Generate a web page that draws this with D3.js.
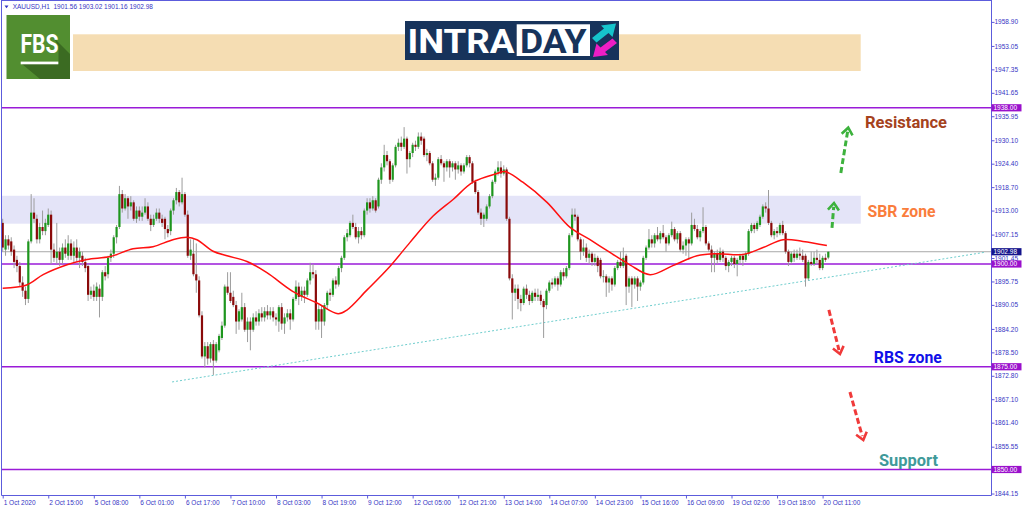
<!DOCTYPE html>
<html><head><meta charset="utf-8">
<script src="https://cdn.jsdelivr.net/npm/d3@7"></script>
<style>body{margin:0;background:#fff;overflow:hidden;} svg{display:block;} text{font-family:"Liberation Sans",Arial,sans-serif;}</style>
</head><body><svg id="c" width="1024" height="511"></svg>
<script>
// ---------------- DATA ----------------
const symbolInfo = "XAUUSD,H1  1901.56 1903.02 1901.16 1902.98";
const barOpen = [
1910,1903.5,1906,1905.5,1903.5,1901,1899.5,1895.5,1893.5,1891.5,
1905.5,1912.5,1911,1906,1909,1908,1909.5,1912,1903.5,1901.5,
1903,1901,1904,1902,1905,1902,1904,1901.5,1902,1900.5,
1899.5,1892.5,1893.5,1892,1894,1892,1898,1897.5,1901.5,1902.5,
1906.5,1909,1917,1913.5,1916,1914,1915,1911,1913,1911.5,
1912.5,1914,1911,1909.5,1911,1912.5,1911,1911,1908.5,1908,
1913,1915.5,1917.5,1915,1917,1912,1902,1902.5,1897.5,1896,
1887.5,1877.5,1880,1877,1880.5,1876.5,1879,1882,1885,1894.5,
1893,1892,1890,1886,1886.5,1889.5,1884,1886,1884,1887,
1886,1888,1887,1888.5,1887.5,1888.5,1887,1886,1889.5,1885.5,
1887,1888,1886.5,1891.5,1894.5,1892,1893.5,1892.5,1896,1898,
1897.5,1886,1889,1886,1890,1893,1892.5,1896,1895,1899,
1901.5,1906.5,1907,1910,1909,1906.5,1908,1907,1913,1915,
1913.5,1915.5,1914,1920.5,1923.5,1926.5,1925,1920.5,1924,1928.5,
1929.5,1928.5,1930.5,1925.5,1927,1929,1928.5,1931,1930.5,1926.5,
1927,1924.5,1920.5,1921,1925.5,1924.5,1923.5,1925,1923.5,1924.5,
1923,1924,1922.5,1924,1926,1924.5,1920,1917.5,1912.5,1911,
1911,1914,1916.5,1920,1922.5,1923.5,1922,1923,1911,1896.5,
1893,1894,1891.5,1890.5,1894,1892.5,1891,1893,1892,1892.5,
1891,1890,1893.5,1895.5,1895,1896.5,1895,1898,1897,1899,
1907,1912,1911.5,1906,1903,1904,1901.5,1902.5,1900.5,1901.5,
1901,1897,1897,1895.5,1896.5,1895,1899,1900.5,1899.5,1902,
1894.5,1896.5,1895,1896.5,1894.5,1895.5,1901.5,1904,1906,1905,
1907,1906,1907.5,1906.5,1905,1907,1908.5,1906,1907.5,1903.5,
1904.5,1906,1905,1909.5,1908.5,1906.5,1908,1909,1905,1903.5,
1901.5,1902.5,1901,1903,1901.5,1899.5,1900.5,1901.5,1900,1901,
1902,1901,1902.5,1908,1909.5,1908.5,1909.5,1911.5,1914,1913.5,
1910,1907,1908,1907.5,1909.5,1907.5,1903,1900.5,1902.5,1901.5,
1902.5,1902,1902,1896.5,1900.5,1900,1901.5,1901,1899,1901.5,1901.56];
const barHigh = [
1911,1907,1907,1906.5,1904.5,1902,1900.5,1897,1894.5,1906,
1917,1916,1912,1910,1913,1911,1913.5,1913,1905,1910,
1904,1905,1906,1907,1906,1905.5,1906,1904,1903,1901.5,
1900,1894.5,1895,1895.5,1895,1898.5,1899.5,1902,1903.5,1907,
1909.5,1919,1918,1917,1916.5,1916.5,1915.5,1914,1914,1914,
1916,1915,1912,1912,1913.5,1913.5,1912,1911.5,1909.5,1913.5,
1916,1918.5,1918,1921,1917.5,1913,1906,1906,1905,1897,
1888.5,1881,1881,1881,1881.5,1881,1883,1886,1895,1898,
1898,1893.5,1891,1889,1893,1890.5,1887,1887,1888,1888.5,
1889,1889.5,1889.5,1890,1889.5,1889.5,1888,1890,1890.5,1888,
1889,1889,1892,1896,1895.5,1894.5,1894.5,1896.5,1900.3,1900,
1898.5,1890,1890,1890.5,1893.5,1894,1896.5,1897,1899.5,1902,
1907,1908.5,1910.5,1912,1910,1909,1909,1913.5,1916,1916,
1916.5,1916,1921,1924.5,1929,1927.5,1925.5,1924.5,1929,1930.5,
1931,1933.3,1931,1927.5,1929.5,1930,1932,1932,1931,1928,
1927.5,1925,1922,1926,1926.5,1925,1925.5,1925.5,1925,1925,
1925,1924.5,1924.5,1926.5,1926.5,1925,1920.5,1918,1913.5,1912.5,
1914.5,1917,1920.5,1923,1925,1925,1924,1923.5,1911.5,1897.5,
1895,1895,1892.5,1894.5,1895,1893.5,1893.5,1894,1894,1893.5,
1891.5,1894,1896,1896.5,1897,1897,1898.5,1899,1899.5,1907.5,
1913.5,1913.5,1912,1906.5,1906,1905,1903.5,1903,1902.5,1902,
1901.5,1898.5,1897.5,1897,1897,1899.5,1901,1903,1904,1902.5,
1897,1897,1897,1897,1896,1902,1904.5,1908.5,1907,1907.5,
1909,1908,1909.5,1907,1907.5,1910.3,1909,1908,1908,1905.5,
1906.5,1906.5,1912.5,1911,1909.5,1908.5,1913.8,1909.5,1905.5,1904.5,
1903,1903.5,1904,1903.5,1902,1901,1902,1902,1901.5,1902.5,
1902.5,1903,1908.5,1910,1910,1910.5,1912,1914.5,1915,1918,
1910.5,1908.5,1909,1910,1910.5,1908,1903.5,1903,1903.5,1903.5,
1904,1903.5,1902.5,1901,1903,1903,1903.5,1902.5,1902,1902.5,1903.02];
const barLow = [
1903,1902,1903.5,1902,1899,1898,1894.5,1892,1890,1890.5,
1905,1910,1905,1905,1907,1907,1909,1900,1900.5,1900,
1899.5,1900,1901.5,1901,1901,1900,1900.5,1899,1899.5,1898,
1891,1891.5,1891,1891,1887,1891,1896,1896.5,1900.5,1901.5,
1905,1908.5,1912.5,1913,1911,1913,1910.5,1910,1910.5,1910.5,
1912,1910.5,1908,1909,1910.5,1910,1909,1906,1906.5,1907,
1912,1914.5,1914,1914.5,1911.5,1901.5,1901,1897,1893,1887,
1877,1874.8,1875.5,1876,1873,1876,1878.5,1881.5,1884.5,1892.5,
1890.5,1889.5,1883,1884,1886,1883.5,1881,1879,1883.5,1885,
1885,1886,1886,1886.5,1886.5,1886,1885,1883.5,1884,1883,
1886,1884,1886,1891,1890,1891,1890.5,1892,1895,1896.5,
1884,1884,1882,1885,1889,1891,1892,1894,1894.5,1898,
1901,1905.5,1906.5,1908.5,1906,1905,1906,1906.5,1912,1912.5,
1913,1912.5,1913.5,1919.5,1922.5,1924,1919.5,1920,1923.5,1927.5,
1927.5,1928,1922,1923.5,1926,1927.5,1928,1929,1926,1925,
1924,1920,1919,1920.5,1924,1920,1922.5,1921,1922.5,1920.5,
1922,1921.5,1922,1923.5,1923.5,1919.5,1917,1912,1909.5,1909,
1910.5,1913.5,1916,1919.5,1921.5,1921,1921.5,1910.5,1896,1886.5,
1891,1889,1888.5,1890,1891.5,1890,1890.5,1891,1891,1890,
1882,1889,1893,1894,1894.5,1893.5,1894.5,1896,1896.5,1898.5,
1906.5,1910.5,1905.5,1901,1902,1900.5,1900,1899.5,1899.5,1898,
1896.5,1895.5,1892,1893,1893.5,1894.5,1898.5,1899,1899,1890,
1893,1889.5,1894,1891,1893.5,1895,1901,1903.5,1904,1904,
1905.5,1905,1906,1903,1904.5,1906.5,1905.5,1905,1903,1902.5,
1902,1901,1904.5,1908,1906,1905.5,1907.5,1904.5,1903,1898,
1898,1900,1900.5,1900.5,1898.5,1898,1899.5,1899,1897,1900,
1899.5,1900.5,1902,1907.5,1907.5,1908,1909,1911,1912.5,1909.5,
1906.5,1906,1906.5,1907,1907,1902.5,1899.5,1900,1900.5,1901,
1901,1900.5,1894.5,1896,1899.5,1899.5,1900,1898.5,1898.5,1900.5,1901.16];
const barClose = [
1904,1906,1904.5,1903,1900.5,1899.5,1895.5,1893.5,1891.5,1905.5,
1912.5,1911,1906,1909,1908,1910,1912,1903.5,1901.5,1903,
1901,1904,1902.5,1905,1902,1904,1901.5,1903,1900.5,1899,
1892.5,1893.5,1892,1894.5,1892,1898,1897,1901.5,1902.5,1906.5,
1909,1917,1913.5,1916,1914,1915,1911,1913,1911.5,1912.5,
1914,1911,1909.5,1911,1912.5,1911,1910,1908.5,1907.5,1913,
1915.5,1917.5,1915,1917,1912,1902,1903.5,1897.5,1896,1887.5,
1877.5,1880,1877,1880.5,1876.5,1880.5,1882.5,1885,1894.5,1893,
1891,1890,1886,1888.5,1889.5,1884,1886,1884,1887,1886,
1888,1887,1888.5,1887.5,1888.5,1887,1886.5,1889.5,1885.5,1887,
1888,1886.5,1891.5,1894.5,1892,1893.5,1892.5,1896,1898,1897.5,
1886,1889,1886,1890,1893,1892.5,1896,1895,1899,1901.5,
1906.5,1907.5,1910,1909,1906.5,1908,1907,1913,1915,1913.5,
1915.5,1913,1920.5,1923.5,1926.5,1925,1920.5,1924,1928.5,1929.5,
1928.5,1930.5,1925.5,1927,1929,1928.5,1931,1930,1926.5,1927,
1924.5,1920.5,1921,1925.5,1924.5,1923.5,1925,1923.5,1924.5,1923,
1924,1922.5,1924,1926,1924.5,1920,1917.5,1912.5,1911,1912,
1914,1916.5,1920,1922.5,1923.5,1922,1923,1911,1896.5,1893,
1894,1891.5,1890.5,1894,1892.5,1891,1893,1892,1892.5,1891,
1889.5,1893.5,1895.5,1895,1896.5,1895,1898,1897,1899,1907,
1912,1911.5,1906,1903,1904,1901.5,1902.5,1900.5,1901.5,1899.5,
1897,1897,1895.5,1896.5,1895,1899,1900.5,1899.5,1901.5,1894.5,
1896.5,1895,1896.5,1894.5,1895.5,1901.5,1904,1906,1905,1907,
1906,1907.5,1906.5,1905,1907,1908.5,1906,1907.5,1903.5,1904.5,
1906,1905,1909.5,1908.5,1906.5,1908,1909,1905,1903.5,1901.5,
1902.5,1901,1903,1901.5,1899.5,1900.5,1901.5,1900,1901,1902,
1901,1902.5,1908,1909.5,1908.5,1910,1911.5,1914,1913.5,1910,
1907,1908,1907.5,1909.5,1907.5,1903,1900.5,1902.5,1901.5,1902.5,
1902,1901,1896.5,1900.5,1900,1901.5,1901,1899,1901.5,1901,1902.98];

// moving average (bar index, price)
const maBars   = [0,8.4,14.2,22.6,29.6,37.7,45.8,52.8,59.8,64.7,68.2,73.9,78.8,85.8,92.8,102,110.4,117.8,120.9,128,136,143,151.1,158.2,165.2,173.6,176.4,182.7,191.2,199.3,206.3,213.3,220.3,227.4,235.4,243.9,250.9,260,267.1,274.1,281.1,289.5];
const maValues = [1894.1,1894.9,1897.4,1899.8,1901.1,1901.8,1903.7,1904.2,1905.9,1906.5,1905.9,1903.1,1902.0,1900.6,1897.9,1893.3,1890.5,1887.9,1888.8,1893.7,1899.4,1905.2,1911.6,1915.7,1919.9,1922.0,1922.5,1919.9,1915.0,1908.9,1905.9,1902.8,1899.8,1897.4,1899.6,1902.0,1902.5,1902.3,1904.0,1905.9,1905.5,1904.5];

const xTickBars = [0,16,32,48,64,80,96,112,128,144,160,176,192,208,224,240,256,272,288];
const xTickLabels = ["1 Oct 2020","2 Oct 15:00","5 Oct 08:00","6 Oct 01:00","6 Oct 17:00","7 Oct 10:00","8 Oct 03:00","8 Oct 19:00","9 Oct 12:00","12 Oct 05:00","12 Oct 21:00","13 Oct 14:00","14 Oct 07:00","14 Oct 23:00","15 Oct 16:00","16 Oct 09:00","19 Oct 02:00","19 Oct 18:00","20 Oct 11:00"];
const yTickValues = [1958.90,1953.05,1947.35,1941.65,1935.95,1930.10,1924.40,1918.70,1913.00,1907.15,1901.45,1895.75,1890.05,1884.20,1878.50,1872.80,1867.10,1861.40,1855.55,1849.85,1844.15];

const levelLines = [1938, 1900, 1875, 1850];
const currentPrice = 1902.98;
const sbrZone = [1909.8, 1916.6];
const zoneEndBar = 301.4;
const trendBars = [59.5, 345];
const trendPrices = [1871.3, 1902.85];

const arrowStartBar  = [291.3, 294.4, 290.2, 297.6];
const arrowStartPx   = [1908.76, 1922.14, 1888.81, 1868.86];
const arrowTipBar    = [292.0, 297.0, 294.1, 302.3];
const arrowTipPx     = [1914.84, 1933.16, 1878.10, 1857.18];
const arrowUp        = [true, true, false, false];

const noteTexts  = ["Resistance","SBR zone","RBS zone","Support"];
const noteBars   = [302.9, 303.8, 306.0, 307.8];
const notePrices = [1933.02, 1911.51, 1875.84, 1850.92];
const noteWidths = [82, 68, 68, 59];
const noteColors = ["#a5421d","#fa7d3c","#1010e8","#3f9a9a"];

// ---------------- CHART ----------------
const svg = d3.select("#c");
const L = 2, R = 991.5, T = 1, B = 495.5;
const x = d3.scaleLinear().domain([0, 290]).range([2.7, 828.3]);
const y = d3.scaleLinear().domain([1850, 1938]).range([469.5, 107.8]);
const axisColor = "#5c5cdc", textColor = "#3535c4";

svg.append("defs").append("clipPath").attr("id","plot")
  .append("rect").attr("x",L).attr("y",T).attr("width",R-L).attr("height",B-T);
const g = svg.append("g").attr("clip-path","url(#plot)");

// header banner (template decoration)
g.append("rect").attr("x",73).attr("y",34.3).attr("width",787.7).attr("height",36.7).attr("fill","#f5ddb3");

// SBR zone band
g.append("rect").attr("x",L).attr("y",y(sbrZone[1]))
  .attr("width",x(zoneEndBar)-L).attr("height",y(sbrZone[0])-y(sbrZone[1]))
  .attr("fill","#e4e4f8");

// level lines
g.selectAll("line.lvl").data(levelLines).join("line").attr("class","lvl")
  .attr("x1",L).attr("x2",R).attr("y1",d=>y(d)).attr("y2",d=>y(d))
  .attr("stroke","#9a1bd8").attr("stroke-width",1.4);
// current price line
g.append("line").attr("x1",L).attr("x2",R).attr("y1",y(currentPrice)).attr("y2",y(currentPrice))
  .attr("stroke","#a8a8a8").attr("stroke-width",1);

// trend line
g.append("line").attr("x1",x(trendBars[0])).attr("y1",y(trendPrices[0]))
  .attr("x2",x(trendBars[1])).attr("y2",y(trendPrices[1]))
  .attr("stroke","#6fcdcd").attr("stroke-width",1).attr("stroke-dasharray","2,2");

// candles
const idx = d3.range(barClose.length);
g.selectAll("line.wick").data(idx).join("line").attr("class","wick")
  .attr("x1",i=>x(i)).attr("x2",i=>x(i))
  .attr("y1",i=>y(barHigh[i])).attr("y2",i=>y(barLow[i]))
  .attr("stroke","#9c9c9c").attr("stroke-width",1);
g.selectAll("rect.body").data(idx).join("rect").attr("class","body")
  .attr("x",i=>x(i)-1.1).attr("width",2.2)
  .attr("y",i=>y(Math.max(barOpen[i],barClose[i])))
  .attr("height",i=>Math.max(0.8, Math.abs(y(barOpen[i])-y(barClose[i]))))
  .attr("fill",i=>barClose[i]>=barOpen[i]?"#1e961e":"#8a0a0a");

// moving average
g.append("path").datum(d3.range(maBars.length))
  .attr("d", d3.line().x(i=>x(maBars[i])).y(i=>y(maValues[i])).curve(d3.curveCatmullRom))
  .attr("fill","none").attr("stroke","#ff1010").attr("stroke-width",1.5);

// arrows
d3.range(arrowStartBar.length).forEach(k=>{
  const sx=x(arrowStartBar[k]), sy=y(arrowStartPx[k]);
  const tx=x(arrowTipBar[k]), ty=y(arrowTipPx[k]);
  const dx=sx-tx, dy=sy-ty, len=Math.hypot(dx,dy);
  const ux=dx/len, uy=dy/len, nx=-uy, ny=ux;
  const col = arrowUp[k] ? "#3db23d" : "#f03a3a";
  g.append("line").attr("x1",sx).attr("y1",sy).attr("x2",tx+ux*4).attr("y2",ty+uy*4)
    .attr("stroke",col).attr("stroke-width",3).attr("stroke-dasharray","6,3");
  g.append("path").attr("d",`M${tx+ux*7+nx*5.5},${ty+uy*7+ny*5.5}L${tx},${ty}L${tx+ux*7-nx*5.5},${ty+uy*7-ny*5.5}`)
    .attr("fill","none").attr("stroke",col).attr("stroke-width",2.6);
});

// notes
svg.selectAll("text.note").data(noteTexts).join("text").attr("class","note")
  .attr("x",(d,i)=>x(noteBars[i])).attr("y",(d,i)=>y(notePrices[i]))
  .attr("fill",(d,i)=>noteColors[i])
  .attr("textLength",(d,i)=>noteWidths[i]).attr("lengthAdjust","spacingAndGlyphs")
  .style("font-family","Roboto, 'Open Sans', sans-serif").style("font-weight","bold").style("font-size","16px")
  .text(d=>d);

// frame
svg.append("line").attr("x1",1.5).attr("x2",1.5).attr("y1",0).attr("y2",B).attr("stroke",axisColor);
svg.append("line").attr("x1",1.5).attr("x2",R).attr("y1",0.5).attr("y2",0.5).attr("stroke",axisColor);

// axes
const yAxis = d3.axisRight(y).tickValues(yTickValues).tickSize(3).tickPadding(0).tickFormat(d3.format(".2f"));
const ya = svg.append("g").attr("transform",`translate(${R},0)`).call(yAxis);
ya.select(".domain").attr("stroke",axisColor).attr("d",`M0,0V${B}`);
ya.selectAll(".tick line").attr("stroke",axisColor);
ya.selectAll(".tick text").attr("fill",textColor).style("font-size","6.5px").style("font-family","'Liberation Sans',Arial,sans-serif");

const xAxis = d3.axisBottom(x).tickValues(xTickBars).tickSize(3).tickPadding(2).tickFormat((d,i)=>xTickLabels[i]);
const xa = svg.append("g").attr("transform",`translate(0,${B})`).call(xAxis);
xa.select(".domain").attr("stroke",axisColor).attr("d",`M1.5,0H${R}`);
xa.selectAll(".tick line").attr("stroke",axisColor);
xa.selectAll(".tick text").attr("fill",textColor).attr("text-anchor","start").attr("x",0.5)
  .style("font-size","6.5px").style("font-family","'Liberation Sans',Arial,sans-serif");

// price boxes
const boxes = levelLines.map(v=>({v, c:"#9a10cc"})).concat([{v:currentPrice, c:"#14148c"}]);
const bg = svg.append("g");
boxes.forEach(b=>{
  bg.append("rect").attr("x",R).attr("y",y(b.v)-3.6).attr("width",30).attr("height",7.2).attr("fill",b.c);
  bg.append("text").attr("x",R+2).attr("y",y(b.v)+2.3).attr("fill","#fff")
    .style("font-size","6.5px").text(d3.format(".2f")(b.v));
});

// header text
svg.append("path").attr("d","M4.5,5.5L8.5,5.5L6.5,8.3Z").attr("fill",textColor);
svg.append("text").attr("x",12.7).attr("y",9.2).attr("fill",textColor).style("font-size","6.5px")
  .attr("xml:space","preserve").style("white-space","pre").text(symbolInfo);

// FBS logo
const fbs = svg.append("g");
fbs.append("rect").attr("x",6.5).attr("y",15).attr("width",63.5).attr("height",64).attr("fill","#528e30");
fbs.append("path").attr("d","M53,37L70,54L70,79L40,79L22,64L58.5,64L58.5,46Z").attr("fill","#3b6b22");
fbs.append("text").attr("x",20.5).attr("y",53.2).attr("fill","#fff").attr("textLength",38).attr("lengthAdjust","spacingAndGlyphs")
  .style("font-family","Roboto, sans-serif").style("font-weight","bold").style("font-size","25px").text("FBS");
fbs.append("rect").attr("x",20.7).attr("y",61.6).attr("width",37.6).attr("height",2.7).attr("fill","#fff");

// INTRADAY logo
const intra = svg.append("g");
intra.append("rect").attr("x",405).attr("y",21).attr("width",214).attr("height",39).attr("fill","#17335b");
intra.append("text").attr("x",407.5).attr("y",52.7).attr("fill","#fff").attr("textLength",107).attr("lengthAdjust","spacingAndGlyphs")
  .style("font-family","Roboto, sans-serif").style("font-weight","bold").style("font-size","33px").text("INTRA");
intra.append("rect").attr("x",516.7).attr("y",24.3).attr("width",73.3).attr("height",31.7).attr("fill","#fff");
intra.append("text").attr("x",520).attr("y",52.7).attr("fill","#17335b").attr("textLength",66.5).attr("lengthAdjust","spacingAndGlyphs")
  .style("font-family","Roboto, sans-serif").style("font-weight","bold").style("font-size","33px").text("DAY");
intra.append("path").attr("d","M616,23.5L612.5,37L608.5,33L596.5,42.5L592,38L604,28.5L601,25.5Z").attr("fill","#16c4cc");
intra.append("path").attr("d","M593,57L596.5,43.5L600.5,47.5L612.5,38.5L617,43L605,52L608,55Z").attr("fill","#ee1ec4");
</script></body></html>
